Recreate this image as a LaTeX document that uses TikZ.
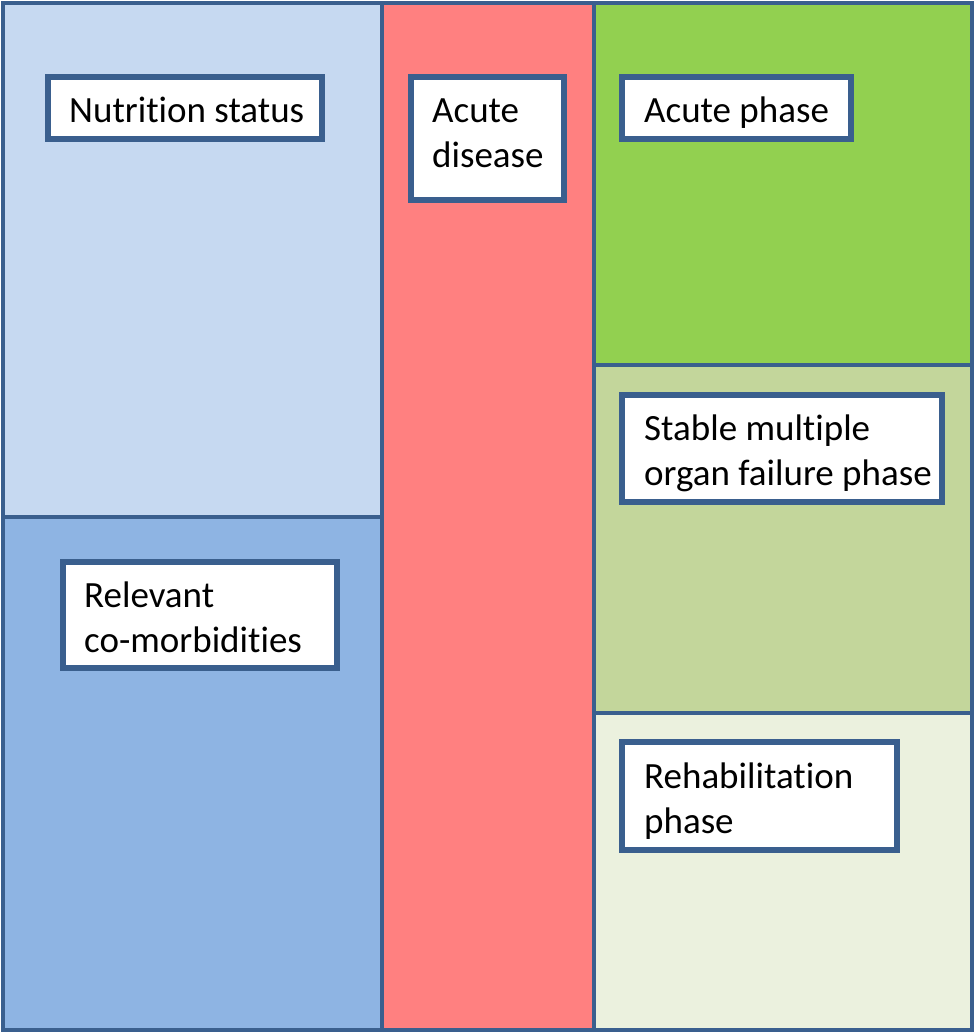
\documentclass[tikz,border=0pt]{standalone}
\usepackage{fontspec}
\setmainfont[Ligatures={NoCommon}]{Carlito}
\definecolor{frame}{HTML}{3A5F8E}
\definecolor{lblue}{HTML}{C6D9F1}
\definecolor{mblue}{HTML}{8EB4E3}
\definecolor{rred}{HTML}{FF8080}
\definecolor{ggreen}{HTML}{92D050}
\definecolor{lgreen}{HTML}{C3D69B}
\definecolor{pgreen}{HTML}{EBF1DE}
\begin{document}
\begin{tikzpicture}[x=1pt,y=-1pt,
  region/.style={draw=frame,line width=4.5pt},
  box/.style={draw=frame,line width=5.5pt,fill=white},
  lbl/.style={anchor=base west,inner sep=0pt,font=\fontsize{37}{45}\selectfont}]
\useasboundingbox (0,0) rectangle (975,1034);
\path[region,fill=lblue] (3,3) rectangle (382,517);
\path[region,fill=mblue] (3,517) rectangle (382,1030);
\path[region,fill=rred] (382,3) rectangle (594,1030);
\path[region,fill=ggreen] (594,3) rectangle (972,365);
\path[region,fill=lgreen] (594,365) rectangle (972,713);
\path[region,fill=pgreen] (594,713) rectangle (972,1030);
% boxes
\path[box] (48,77) rectangle (322,139);
\path[box] (411,77) rectangle (564,200);
\path[box] (622,77) rectangle (851,139);
\path[box] (622,395) rectangle (942,502);
\path[box] (63,562) rectangle (337,668);
\path[box] (622,742) rectangle (897,850);
% labels
\node[lbl] (nut) at (69,122) {Nutrition status};
\node[lbl] (ad1) at (432,122) {Acute};
\node[lbl] (ad2) at (432,167) {disease};
\node[lbl] (ap) at (644,122) {Acute phase};
\node[lbl] (sm1) at (644,440) {Stable multiple};
\node[lbl] (sm2) at (644,485) {organ failure phase};
\node[lbl] (rc1) at (84,607) {Relevant};
\node[lbl] (rc2) at (84,652) {co-morbidities};
\node[lbl] (rh1) at (644,788) {Rehabilitation};
\node[lbl] (rh2) at (644,833) {phase};
\end{tikzpicture}
\end{document}
